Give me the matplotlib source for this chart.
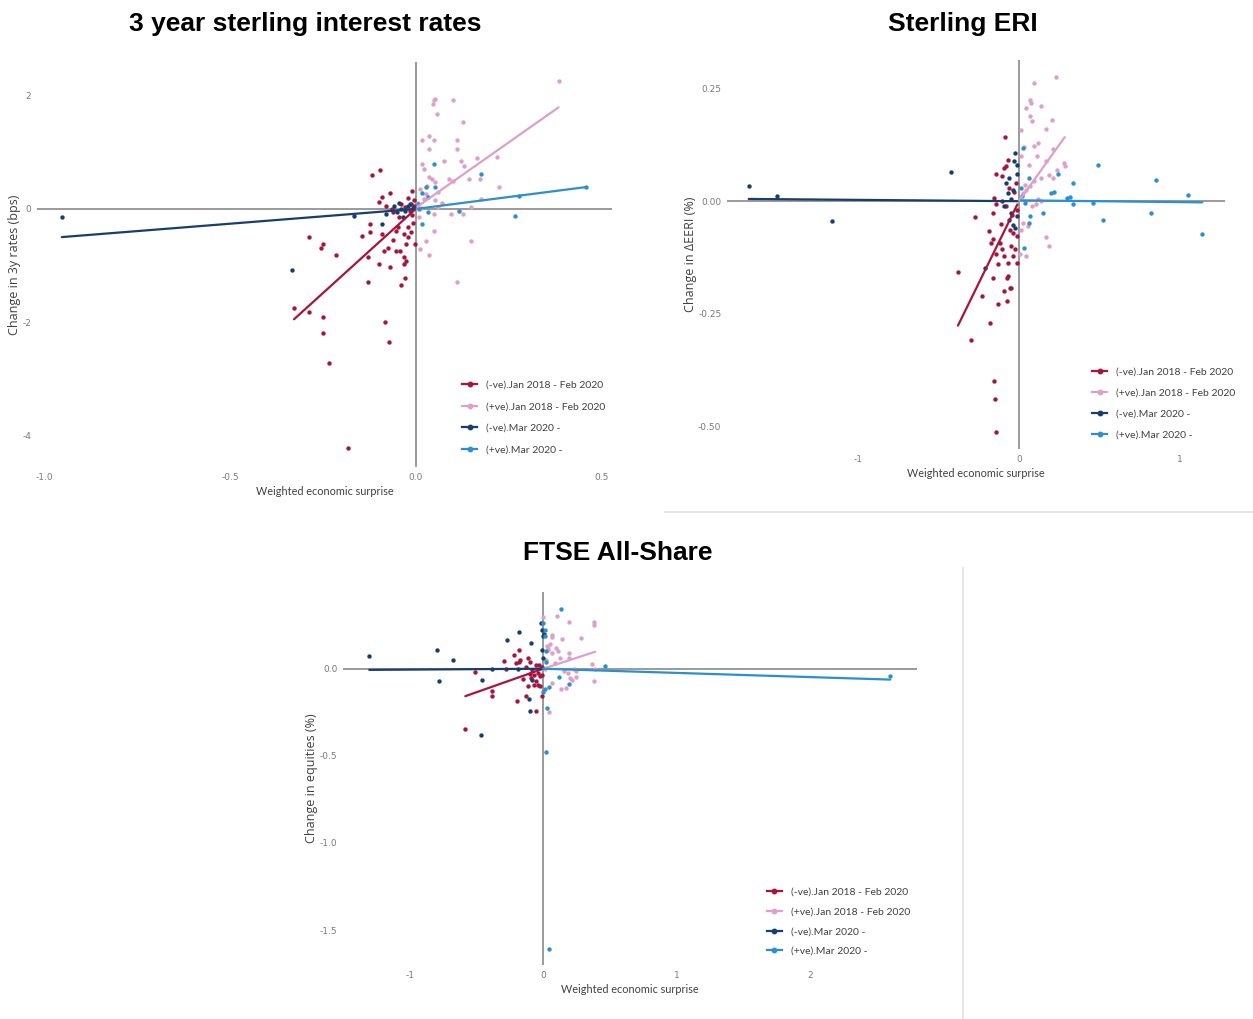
"""Scatter of market moves against weighted economic surprises, three panels."""

import matplotlib.pyplot as plt
import numpy as np
from matplotlib.lines import Line2D

SERIES_LABELS = [
    "(-ve).Jan 2018 - Feb 2020",
    "(+ve).Jan 2018 - Feb 2020",
    "(-ve).Mar 2020 -",
    "(+ve).Mar 2020 -",
]
SERIES_COLORS = ["#A8143C", "#DDA0C8", "#163E72", "#2B8FD2"]

# 3 year sterling interest rates
RATES_NEG_PRE_X = [-0.118, -0.096, -0.091, -0.070, -0.100, -0.040, -0.030, -0.020, -0.010, -0.005,
                   -0.015, -0.144, -0.123, -0.123, -0.289, -0.251, -0.254, -0.216, -0.128, -0.100,
                   -0.070, -0.086, -0.075, -0.054, -0.043, -0.032, -0.032, -0.027, -0.021, -0.021,
                   -0.032, -0.054, -0.048, -0.128, -0.040, -0.030, -0.328, -0.289, -0.251, -0.251,
                   -0.083, -0.073, -0.235, -0.182, -0.002, -0.016, -0.011, -0.060, -0.080, -0.065,
                   -0.045, -0.090, -0.062, -0.008, -0.012, -0.025, -0.005]
RATES_NEG_PRE_Y = [0.59, 0.68, 0.21, 0.28, 0.12, 0.09, 0.03, 0.20, 0.32, 0.15,
                   0.08, -0.47, -0.26, -0.41, -0.50, -0.62, -0.69, -0.82, -0.85, -0.97,
                   -1.03, -0.74, -0.68, -0.74, -0.74, -0.85, -0.97, -0.91, -0.50, -0.32,
                   -0.44, -0.38, -0.32, -1.29, -1.34, -1.21, -1.74, -1.82, -1.91, -2.18,
                   -2.00, -2.34, -2.72, -4.22, -0.62, -0.03, -0.10, -0.06, 0.05, 0.00,
                   -0.15, -0.45, -0.55, -0.25, -0.40, -0.62, 0.05]
RATES_POS_PRE_X = [0.385, 0.048, 0.053, 0.046, 0.100, 0.057, 0.128, 0.016, 0.037, 0.050,
                   0.112, 0.112, 0.037, 0.077, 0.123, 0.130, 0.166, 0.219, 0.224, 0.174,
                   0.144, 0.091, 0.100, 0.016, 0.021, 0.037, 0.043, 0.053, 0.011, 0.027,
                   0.053, 0.059, 0.118, 0.128, 0.150, 0.176, 0.096, 0.048, 0.048, 0.027,
                   0.011, 0.037, 0.150, 0.112, 0.005, 0.015, 0.022, 0.030, 0.060, 0.008, 0.070]
RATES_POS_PRE_Y = [2.25, 1.92, 1.94, 1.85, 1.92, 1.68, 1.53, 1.21, 1.29, 1.22,
                   1.21, 1.06, 1.06, 0.85, 0.85, 0.76, 0.90, 0.92, 0.39, 0.53,
                   0.53, 0.53, 0.50, 0.79, 0.71, 0.56, 0.53, 0.47, 0.35, 0.26,
                   0.15, 0.03, -0.03, -0.09, 0.03, 0.18, -0.09, -0.09, -0.38, -0.56,
                   -0.71, -0.81, -0.56, -1.28, 0.10, 0.02, 0.18, 0.40, 0.30, -0.15, 0.10]
RATES_NEG_POST_X = [-0.954, -0.334, -0.166, -0.091, -0.080, -0.050, -0.045, -0.040, -0.030,
                    -0.020, -0.012, -0.006, -0.058, -0.035]
RATES_NEG_POST_Y = [-0.15, -1.08, -0.12, -0.26, -0.09, -0.05, 0.10, 0.00, -0.03,
                    0.05, 0.08, 0.02, 0.05, -0.15]
RATES_POS_POST_X = [0.048, 0.027, 0.051, 0.032, 0.016, 0.016, 0.176, 0.267, 0.278, 0.460,
                    0.118, 0.032, 0.010, 0.005]
RATES_POS_POST_Y = [0.79, 0.38, 0.38, 0.21, 0.29, -0.26, 0.61, -0.13, 0.22, 0.38,
                    -0.03, -0.06, 0.00, 0.08]
RATES_FITS = [(5.93, 0.0), (4.60, 0.02), (0.52, 0.0), (0.84, 0.0)]  # slope, intercept

# Sterling ERI
ERI_NEG_PRE_X = [-0.089, -0.140, -0.105, -0.082, -0.070, -0.094, -0.152, -0.140, -0.164, -0.105,
                 -0.082, -0.276, -0.379, -0.300, -0.180, -0.227, -0.129, -0.077, -0.164, -0.070,
                 -0.075, -0.047, -0.058, -0.155, -0.150, -0.145, -0.187, -0.164, -0.117, -0.105,
                 -0.094, -0.070, -0.035, -0.012, -0.023, -0.047, -0.141, -0.176, -0.058, -0.035,
                 -0.012, -0.030, -0.020, -0.010, -0.045, -0.060, -0.110, -0.130, -0.090]
ERI_NEG_PRE_Y = [0.143, 0.060, 0.056, 0.078, 0.092, 0.074, 0.007, -0.007, -0.026, 0.000,
                 -0.011, -0.036, -0.157, -0.308, -0.271, -0.211, -0.228, -0.223, -0.171, -0.166,
                 -0.170, -0.192, -0.192, -0.400, -0.439, -0.513, -0.067, -0.085, -0.092, -0.107,
                 -0.122, -0.137, -0.122, -0.137, -0.107, -0.100, -0.118, -0.092, -0.063, -0.070,
                 -0.078, 0.020, 0.040, -0.020, -0.030, 0.030, -0.050, -0.140, -0.200]
ERI_POS_PRE_X = [0.230, 0.094, 0.070, 0.077, 0.042, 0.140, 0.070, 0.082, 0.206, 0.169,
                 0.012, 0.210, 0.117, 0.094, 0.280, 0.285, 0.234, 0.187, 0.210, 0.140,
                 0.094, 0.070, 0.047, 0.023, 0.035, 0.082, 0.105, 0.169, 0.190, 0.005,
                 0.042, 0.140, 0.117, 0.023, 0.012, 0.058, 0.015, 0.030, 0.060, 0.110, 0.170]
ERI_POS_PRE_Y = [0.277, 0.264, 0.226, 0.218, 0.207, 0.211, 0.189, 0.178, 0.181, 0.160,
                 0.159, 0.117, 0.130, 0.122, 0.085, 0.078, 0.070, 0.059, 0.052, 0.052,
                 0.044, 0.033, 0.026, 0.018, 0.037, -0.011, -0.007, -0.080, -0.100, -0.118,
                 -0.122, 0.000, 0.004, -0.048, -0.063, -0.055, 0.100, 0.120, 0.080, 0.100, 0.090]
ERI_NEG_POST_X = [-1.680, -1.506, -1.159, -0.420, -0.210, -0.012, -0.023, -0.059, -0.082, -0.035,
                  -0.070, -0.047, -0.094, -0.059, -0.035, -0.023, -0.012, -0.047, -0.010, -0.030]
ERI_NEG_POST_Y = [0.033, 0.011, -0.043, 0.066, -0.148, 0.081, 0.107, 0.052, 0.041, 0.026,
                  0.019, 0.004, -0.011, -0.041, -0.052, -0.059, -0.033, -0.026, 0.060, 0.090]
ERI_POS_POST_X = [0.490, 0.855, 1.050, 0.820, 1.140, 0.520, 0.335, 0.335, 0.300, 0.318,
                  0.240, 0.220, 0.200, 0.150, 0.460, 0.060, 0.023, 0.030, 0.070, 0.060,
                  0.035, 0.020, 0.012]
ERI_POS_POST_Y = [0.081, 0.048, 0.013, -0.027, -0.074, -0.041, 0.041, -0.007, 0.007, 0.009,
                  0.061, 0.020, 0.018, -0.027, -0.004, 0.052, 0.118, -0.104, -0.033, -0.048,
                  -0.004, 0.011, 0.030]
ERI_FITS = [(0.73, 0.0), (0.50, 0.0), (-0.003, 0.0), (-0.004, 0.002)]

# FTSE All-Share
FTSE_NEG_PRE_X = [-0.583, -0.510, -0.387, -0.387, -0.297, -0.222, -0.180, -0.195, -0.132, -0.051,
                  -0.180, -0.200, -0.170, -0.110, -0.095, -0.126, -0.081, -0.066, -0.093, -0.051,
                  -0.036, -0.021, -0.117, -0.072, -0.051, -0.036, -0.021, -0.006, -0.006, -0.030,
                  -0.150, -0.100, -0.012, -0.280]
FTSE_NEG_PRE_Y = [-0.345, -0.017, -0.130, -0.155, 0.046, 0.077, 0.109, -0.188, -0.159, -0.245,
                  0.040, 0.030, 0.050, 0.060, 0.040, 0.010, -0.006, -0.034, -0.054, -0.071,
                  -0.092, -0.100, -0.100, -0.092, 0.023, -0.025, -0.044, -0.034, -0.155, 0.020,
                  -0.060, -0.030, 0.010, 0.000]
FTSE_POS_PRE_X = [0.000, 0.102, 0.195, 0.384, 0.384, 0.280, 0.144, 0.069, 0.069, 0.030,
                  0.039, 0.054, 0.099, 0.114, 0.069, 0.033, 0.195, 0.195, 0.129, 0.363,
                  0.390, 0.384, 0.249, 0.219, 0.204, 0.249, 0.189, 0.159, 0.132, 0.174,
                  0.045, 0.069, 0.020, 0.090, 0.015, 0.230]
FTSE_POS_PRE_Y = [0.295, 0.305, 0.266, 0.268, 0.253, 0.176, 0.172, 0.195, 0.180, 0.130,
                  0.120, 0.140, 0.120, 0.100, 0.090, 0.110, 0.090, 0.061, 0.061, 0.027,
                  0.000, -0.073, -0.050, -0.063, -0.054, -0.015, -0.025, -0.015, -0.117, -0.110,
                  -0.249, -0.082, 0.050, 0.030, 0.000, 0.000]
FTSE_NEG_POST_X = [-1.303, -0.793, -0.676, -0.778, -0.456, -0.465, -0.270, -0.180, -0.093, -0.102,
                   -0.108, -0.006, 0.000, -0.012, 0.000, -0.020, 0.005, -0.081, -0.387, -0.186]
FTSE_NEG_POST_Y = [0.071, 0.105, 0.052, -0.069, -0.063, -0.383, 0.167, 0.213, 0.148, -0.241,
                   -0.174, 0.220, 0.190, 0.110, 0.060, 0.260, 0.200, -0.063, 0.000, 0.000]
FTSE_POS_POST_X = [0.135, 0.000, 0.010, 0.015, 0.018, 0.024, 2.600, 0.460, 0.117, 0.192,
                   0.040, 0.010, 0.000, 0.027, 0.024, 0.040]
FTSE_POS_POST_Y = [0.343, 0.260, 0.220, 0.190, 0.100, 0.038, -0.044, 0.017, -0.050, -0.090,
                   -0.103, -0.117, -0.136, -0.228, -0.479, -1.609]
FTSE_FITS = [(0.27, 0.0), (0.25, 0.0), (0.005, 0.0), (-0.024, 0.0)]

RATES_XTICKS = [-1.0, -0.5, 0.0, 0.5]
RATES_XTICK_LABELS = ["-1.0", "-0.5", "0.0", "0.5"]
RATES_YTICKS = [2, 0, -2, -4]
RATES_YTICK_LABELS = ["2", "0", "-2", "-4"]
ERI_XTICKS = [-1, 0, 1]
ERI_XTICK_LABELS = ["-1", "0", "1"]
ERI_YTICKS = [0.25, 0.0, -0.25, -0.5]
ERI_YTICK_LABELS = ["0.25", "0.00", "-0.25", "-0.50"]
FTSE_XTICKS = [-1, 0, 1, 2]
FTSE_XTICK_LABELS = ["-1", "0", "1", "2"]
FTSE_YTICKS = [0.0, -0.5, -1.0, -1.5]
FTSE_YTICK_LABELS = ["0.0", "-0.5", "-1.0", "-1.5"]

TICK_COLOR = "#7a7a7a"
LABEL_COLOR = "#404040"
ZERO_LINE_COLOR = "#9a9a9a"


def draw_panel(ax, groups, fits, xlim, ylim, xticks, xtick_labels, yticks, ytick_labels,
               ylabel, legend_anchor, legend_spacing):
    """Draw one scatter panel with per-group fitted lines and zero axes."""
    ax.axhline(0, color=ZERO_LINE_COLOR, lw=1.4, zorder=1)
    ax.axvline(0, color=ZERO_LINE_COLOR, lw=1.4, zorder=1)
    for (x, y), (slope, intercept), color in zip(groups, fits, SERIES_COLORS):
        x = np.asarray(x)
        y = np.asarray(y)
        ax.scatter(x, y, s=10, color=color, linewidths=0, zorder=2)
        line_x = np.array([x.min(), x.max()])
        ax.plot(line_x, slope * line_x + intercept, color=color, lw=1.6, zorder=3,
                solid_capstyle="round")

    ax.set_xlim(*xlim)
    ax.set_ylim(*ylim)
    ax.set_xticks(xticks, xtick_labels)
    ax.set_yticks(yticks, ytick_labels)
    ax.tick_params(length=0, labelsize=6.5, colors=TICK_COLOR, pad=4)
    for spine in ax.spines.values():
        spine.set_visible(False)
    ax.set_xlabel("Weighted economic surprise", fontsize=7.8, color=LABEL_COLOR,
                  family="Lato", labelpad=3)
    ax.set_ylabel(ylabel, fontsize=9, color=LABEL_COLOR, family="Open Sans", labelpad=1)

    handles = [Line2D([], [], color=c, lw=1.6, marker="o", markersize=3.2) for c in SERIES_COLORS]
    ax.legend(handles, SERIES_LABELS, loc="lower left", bbox_to_anchor=legend_anchor,
              frameon=False, borderpad=0, borderaxespad=0, handlelength=1.4,
              handletextpad=0.9, labelspacing=legend_spacing,
              prop={"family": "Lato", "size": 7.5}, labelcolor=LABEL_COLOR)


def main() -> None:
    figure = plt.figure(figsize=(12.53, 10.19), dpi=100)

    rates_axis = figure.add_axes([0.0295, 0.5417, 0.4589, 0.3974])
    draw_panel(
        rates_axis,
        [(RATES_NEG_PRE_X, RATES_NEG_PRE_Y), (RATES_POS_PRE_X, RATES_POS_PRE_Y),
         (RATES_NEG_POST_X, RATES_NEG_POST_Y), (RATES_POS_POST_X, RATES_POS_POST_Y)],
        RATES_FITS, (-1.021, 0.529), (-4.55, 2.59),
        RATES_XTICKS, RATES_XTICK_LABELS, RATES_YTICKS, RATES_YTICK_LABELS,
        "Change in 3y rates (bps)", (0.74, 0.03), 1.2,
    )

    eri_axis = figure.add_axes([0.5802, 0.5594, 0.3974, 0.3817])
    draw_panel(
        eri_axis,
        [(ERI_NEG_PRE_X, ERI_NEG_PRE_Y), (ERI_POS_PRE_X, ERI_POS_PRE_Y),
         (ERI_NEG_POST_X, ERI_NEG_POST_Y), (ERI_POS_POST_X, ERI_POS_POST_Y)],
        ERI_FITS, (-1.815, 1.281), (-0.551, 0.314),
        ERI_XTICKS, ERI_XTICK_LABELS, ERI_YTICKS, ERI_YTICK_LABELS,
        "Change in ΔEERI (%)", (0.734, 0.025), 1.1,
    )

    ftse_axis = figure.add_axes([0.2737, 0.0530, 0.4581, 0.3660])
    draw_panel(
        ftse_axis,
        [(FTSE_NEG_PRE_X, FTSE_NEG_PRE_Y), (FTSE_POS_PRE_X, FTSE_POS_PRE_Y),
         (FTSE_NEG_POST_X, FTSE_NEG_POST_Y), (FTSE_POS_POST_X, FTSE_POS_POST_Y)],
        FTSE_FITS, (-1.50, 2.80), (-1.70, 0.44),
        FTSE_XTICKS, FTSE_XTICK_LABELS, FTSE_YTICKS, FTSE_YTICK_LABELS,
        "Change in equities (%)", (0.739, 0.024), 1.0,
    )

    title_style = {"fontsize": 19, "fontweight": "bold", "family": "Liberation Sans",
                   "ha": "center", "va": "center"}
    figure.text(305 / 1253, 1 - 24 / 1019, "3 year sterling interest rates", **title_style)
    figure.text(963 / 1253, 1 - 24 / 1019, "Sterling ERI", **title_style)
    figure.text(618 / 1253, 1 - 553 / 1019, "FTSE All-Share", **title_style)

    # faint panel borders left over from the source layout
    figure.add_artist(Line2D([665 / 1253, 1.0], [1 - 512 / 1019] * 2, color="#e6e6e6", lw=1.5))
    figure.add_artist(Line2D([963 / 1253] * 2, [0.0, 1 - 568 / 1019], color="#e6e6e6", lw=1.5))

    figure.savefig("out.png", dpi=100)
    plt.close(figure)


if __name__ == "__main__":
    main()
